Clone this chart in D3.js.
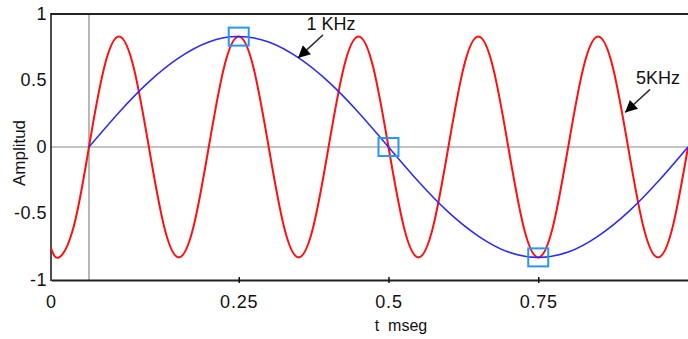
<!DOCTYPE html>
<html>
<head>
<meta charset="utf-8">
<script src="https://cdn.jsdelivr.net/npm/d3@7/dist/d3.min.js"></script>
<style>
  body { margin: 0; background: #fff; }
  text { font-family: 'Liberation Sans', Arial, sans-serif; fill: #111; }
</style>
</head>
<body>
<div id="chart"></div>
<script>
// time axis (ms) - left edge of the plot sits a bit before t = 0
const tMin = -0.0634;
const tMax = 1.0;

// 1 KHz signal (blue)
const blueT = [0, 0.05, 0.1, 0.15, 0.2, 0.25, 0.3, 0.35, 0.4, 0.45, 0.5,
  0.55, 0.6, 0.65, 0.7, 0.75, 0.8, 0.85, 0.9, 0.95, 1.0];
const blueV = [0, 0.26, 0.49, 0.67, 0.79, 0.83, 0.79, 0.67, 0.49, 0.26, 0,
  -0.26, -0.49, -0.67, -0.79, -0.83, -0.79, -0.67, -0.49, -0.26, 0];

// 5 KHz signal (red)
const redT = [-0.0634, -0.05, -0.025, 0, 0.025, 0.05, 0.075, 0.1, 0.125, 0.15, 0.175,
  0.2, 0.225, 0.25, 0.275, 0.3, 0.325, 0.35, 0.375, 0.4, 0.425, 0.45, 0.475,
  0.5, 0.525, 0.55, 0.575, 0.6, 0.625, 0.65, 0.675, 0.7, 0.725, 0.75, 0.775,
  0.8, 0.825, 0.85, 0.875, 0.9, 0.925, 0.95, 0.975, 1.0];
const redV = [-0.76, -0.83, -0.59, 0, 0.59, 0.83, 0.59, 0, -0.59, -0.83, -0.59,
  0, 0.59, 0.83, 0.59, 0, -0.59, -0.83, -0.59, 0, 0.59, 0.83, 0.59,
  0, -0.59, -0.83, -0.59, 0, 0.59, 0.83, 0.59, 0, -0.59, -0.83, -0.59,
  0, 0.59, 0.83, 0.59, 0, -0.59, -0.83, -0.59, 0];

// highlighted samples on the 1 KHz curve
const markerT = [0.25, 0.5, 0.75];
const markerV = [0.83, 0, -0.83];

// ticks
const xTicks = [tMin, 0.25, 0.5, 0.75];
const xTickLabels = ['0', '0.25', '0.5', '0.75'];
const yTicks = [1, 0.5, 0, -0.5, -1];
const yTickLabels = ['1', '0.5', '0', '-0.5', '-1'];

// annotations (arrow tip in data coords)
const notes = [
  { label: '1 KHz', t: 0.349, v: 0.67 },
  { label: '5KHz', t: 0.895, v: 0.26 }
];

const width = 688;
const height = 339;
const margin = { top: 14, right: 0, bottom: 59, left: 51 };
const font = "'Liberation Sans', Arial, sans-serif";

const svg = d3.select('#chart')
  .append('svg')
  .attr('width', width)
  .attr('height', height);

const x = d3.scaleLinear()
  .domain([tMin, tMax])
  .range([margin.left, width - margin.right]);

const y = d3.scaleLinear()
  .domain([-1, 1])
  .range([height - margin.bottom, margin.top]);

// reference lines t = 0 and amplitude = 0
svg.append('line')
  .attr('x1', x(0)).attr('x2', x(0))
  .attr('y1', y(1)).attr('y2', y(-1))
  .attr('stroke', '#888')
  .attr('stroke-width', 1.2);

svg.append('line')
  .attr('x1', x(tMin)).attr('x2', x(tMax))
  .attr('y1', y(0)).attr('y2', y(0))
  .attr('stroke', '#888')
  .attr('stroke-width', 1.2);

// frame
svg.append('line')
  .attr('x1', x(tMin)).attr('x2', x(tMax))
  .attr('y1', y(1)).attr('y2', y(1))
  .attr('stroke', '#222').attr('stroke-width', 2);

svg.append('line')
  .attr('x1', x(tMin)).attr('x2', x(tMin))
  .attr('y1', y(1) - 1).attr('y2', y(-1) + 1)
  .attr('stroke', '#111').attr('stroke-width', 1.5);

// x axis
const xAxis = svg.append('g')
  .attr('transform', `translate(0,${y(-1)})`)
  .call(d3.axisBottom(x)
    .tickValues(xTicks)
    .tickFormat((d, i) => xTickLabels[i])
    .tickSizeInner(3)
    .tickSizeOuter(0)
    .tickPadding(12));
xAxis.select('.domain').attr('stroke', '#222').attr('stroke-width', 2);
xAxis.selectAll('.tick line')
  .attr('y1', -3)
  .attr('stroke', '#111')
  .attr('stroke-width', 1.5)
  .attr('opacity', (d, i) => (i === 0 ? 0 : 1));
xAxis.selectAll('.tick text')
  .style('font-size', '18px')
  .style('letter-spacing', '0.8px')
  .style('font-family', font)
  .attr('fill', '#111');

// y axis labels
const yAxis = svg.append('g')
  .attr('transform', `translate(${x(tMin)},0)`)
  .call(d3.axisLeft(y)
    .tickValues(yTicks)
    .tickFormat((d, i) => yTickLabels[i])
    .tickSize(0)
    .tickPadding(4));
yAxis.select('.domain').remove();
yAxis.selectAll('.tick text')
  .style('font-size', '18px')
  .style('letter-spacing', '0.5px')
  .style('font-family', font)
  .attr('dy', '0.3em')
  .attr('fill', '#111');

// axis titles
svg.append('text')
  .attr('transform', `translate(25,${(y(1) + y(-1)) / 2 + 6}) rotate(-90)`)
  .attr('text-anchor', 'middle')
  .style('font-size', '17px')
  .text('Amplitud');

svg.append('text')
  .attr('x', 401)
  .attr('y', 331)
  .attr('text-anchor', 'middle')
  .style('font-size', '16px')
  .style('white-space', 'pre')
  .text('t  mseg');

// signals
const line = d3.line()
  .x(d => x(d[0]))
  .y(d => y(d[1]))
  .curve(d3.curveNatural);

svg.append('path')
  .datum(redT.map((t, i) => [t, redV[i]]))
  .attr('d', line)
  .attr('fill', 'none')
  .attr('stroke', '#ff1010')
  .attr('stroke-width', 2);

svg.append('path')
  .datum(blueT.map((t, i) => [t, blueV[i]]))
  .attr('d', line)
  .attr('fill', 'none')
  .attr('stroke', '#2828ff')
  .attr('stroke-width', 1.5);

// marker squares
svg.selectAll('.marker')
  .data(markerT.map((t, i) => [t, markerV[i]]))
  .enter()
  .append('rect')
  .attr('class', 'marker')
  .attr('x', d => x(d[0]) - 10)
  .attr('y', d => y(d[1]) - 9)
  .attr('width', 20)
  .attr('height', 18)
  .attr('fill', 'none')
  .attr('stroke', '#2a95f5')
  .attr('stroke-width', 2);

// arrows with labels
svg.append('defs')
  .append('marker')
  .attr('id', 'arrow')
  .attr('viewBox', '0 0 10 10')
  .attr('refX', 10)
  .attr('refY', 5)
  .attr('markerWidth', 17)
  .attr('markerHeight', 12)
  .attr('markerUnits', 'userSpaceOnUse')
  .attr('orient', 'auto')
  .append('path')
  .attr('d', 'M0,0 L10,5 L0,10 Z')
  .attr('fill', '#000');

const noteG = svg.selectAll('.note')
  .data(notes)
  .enter()
  .append('g')
  .attr('class', 'note');

noteG.append('line')
  .attr('x1', d => x(d.t) + 25)
  .attr('y1', d => y(d.v) - 23)
  .attr('x2', d => x(d.t))
  .attr('y2', d => y(d.v))
  .attr('stroke', '#333')
  .attr('stroke-width', 1.5)
  .attr('marker-end', 'url(#arrow)');

noteG.append('text')
  .attr('x', d => x(d.t) + 33)
  .attr('y', d => y(d.v) - 28)
  .attr('text-anchor', 'middle')
  .style('font-size', '18px')
  .text(d => d.label);
</script>
</body>
</html>
